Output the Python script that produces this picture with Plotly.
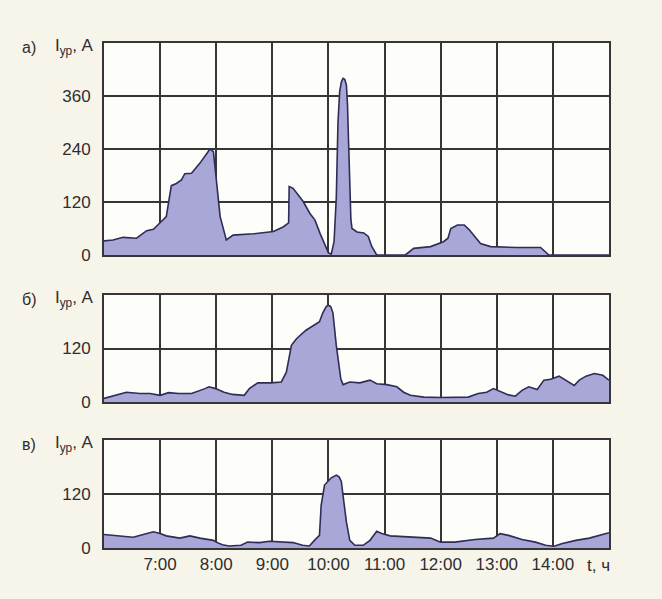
import plotly.graph_objects as go

# ---- data (time in decimal hours, current in A) ----
hours_a = [6.0, 6.16, 6.34, 6.58, 6.76, 6.88, 6.99, 7.11, 7.20, 7.29, 7.38, 7.44, 7.56, 7.71, 7.89, 7.95,
           8.07, 8.18, 8.30, 8.66, 9.02, 9.20, 9.29, 9.30, 9.37, 9.55, 9.67, 9.76, 9.85, 10.00,
           10.05, 10.10, 10.14, 10.17, 10.20, 10.23, 10.26, 10.29, 10.32, 10.34, 10.36, 10.38, 10.40,
           10.42, 10.51, 10.63, 10.71, 10.77, 10.86, 11.37, 11.52, 11.82, 12.05, 12.13, 12.18, 12.30,
           12.42, 12.51, 12.71, 12.89, 13.36, 13.78, 13.87, 13.93, 15.0]
current_a = [32, 34, 40, 38, 55, 58, 72, 87, 157, 162, 170, 184, 185, 208, 240, 234,
             87, 34, 45, 48, 53, 64, 73, 155, 151, 121, 94, 79, 49, 5,
             2, 30, 130, 300, 370, 392, 400, 398, 385, 340, 250, 150, 80,
             60, 52, 50, 42, 20, 0, 0, 15, 19, 30, 38, 60, 68,
             68, 57, 26, 19, 17, 17, 8, 0, 0]

hours_b = [6.0, 6.22, 6.40, 6.64, 6.82, 7.0, 7.15, 7.33, 7.56, 7.80, 7.87, 7.99, 8.14, 8.29, 8.50,
           8.59, 8.74, 8.98, 9.16, 9.25, 9.34, 9.43, 9.60, 9.84, 9.90, 9.96, 10.0, 10.04, 10.08, 10.14,
           10.22, 10.26, 10.38, 10.56, 10.74, 10.86, 11.04, 11.22, 11.34, 11.46, 11.70, 12.0, 12.49,
           12.67, 12.82, 12.94, 13.06, 13.21, 13.33, 13.45, 13.57, 13.72, 13.84, 13.96, 14.11,
           14.23, 14.38, 14.47, 14.59, 14.74, 14.89, 15.0]
current_b = [8, 15, 22, 19, 19, 15, 21, 19, 19, 30, 34, 30, 22, 17, 15,
             30, 43, 43, 45, 67, 127, 142, 161, 180, 200, 214, 217, 214, 200, 127,
             52, 39, 45, 43, 49, 41, 39, 34, 22, 15, 11, 10, 11,
             19, 22, 30, 24, 16, 13, 26, 34, 28, 49, 51, 58,
             49, 37, 49, 58, 64, 60, 49]

hours_c = [6.0, 6.22, 6.52, 6.70, 6.88, 7.0, 7.11, 7.35, 7.53, 7.71, 7.95, 8.0, 8.11, 8.23, 8.44,
           8.56, 8.77, 8.95, 9.13, 9.37, 9.54, 9.66, 9.75, 9.84, 9.87, 9.93, 10.05, 10.10, 10.14, 10.19,
           10.23, 10.26, 10.32, 10.38, 10.47, 10.62, 10.74, 10.86, 10.95, 11.10, 11.46, 11.82, 12.0,
           12.25, 12.61, 12.94, 13.06, 13.21, 13.45, 13.69, 13.87, 14.02, 14.17, 14.41, 14.65,
           14.89, 15.0]
current_c = [30, 28, 24, 30, 36, 32, 27, 22, 27, 22, 17, 13, 7, 4.5, 6,
             13, 12, 15, 13, 12, 6, 4.5, 17, 28, 95, 140, 156, 160, 162, 158,
             148, 117, 58, 17, 6, 6, 17, 37, 32, 27, 24, 22, 13,
             13, 19, 22, 32, 28, 19, 13, 6, 4, 10, 17, 22,
             30, 34]

x_ticks = [7, 8, 9, 10, 11, 12, 13, 14]
x_labels = ["7:00", "8:00", "9:00", "10:00", "11:00", "12:00", "13:00", "14:00"]
ticks_a = [0, 120, 240, 360]
ticks_bc = [0, 120]
panel_letters = ["а)", "б)", "в)"]

# ---- styling ----
BG = "#f7f4ea"
PLOT_BG = "#fdfdf9"
GRID = "#363636"
FILL = "#a9a6d8"
LINE = "#2f2c55"
FONT = "Liberation Sans, Arial, sans-serif"
TXT = "#2e2e2e"

fig = go.Figure()
series = [(hours_a, current_a), (hours_b, current_b), (hours_c, current_c)]
for i, (hx, cy) in enumerate(series):
    sfx = "" if i == 0 else str(i + 1)
    fig.add_trace(go.Scatter(x=hx, y=cy, mode="lines", fill="tozeroy",
                             fillcolor=FILL, line=dict(color=LINE, width=1.6),
                             xaxis="x" + sfx, yaxis="y" + sfx, showlegend=False,
                             hoverinfo="skip"))

W, H = 662, 599
ml, mr, mt, mb = 104, 53, 43, 51
ph = H - mt - mb
def py(y):
    return (H - mb - y) / ph

domains = [(py(255), 1.0), (py(402), py(295)), (0.0, py(440))]
ranges = [[0, 480], [0, 240], [0, 240]]
tickv = [ticks_a, ticks_bc, ticks_bc]

layout = dict(width=W, height=H, paper_bgcolor=BG, plot_bgcolor=PLOT_BG,
              margin=dict(l=ml, r=mr, t=mt, b=mb),
              font=dict(family=FONT, size=17, color=TXT))

for i in range(3):
    sfx = "" if i == 0 else str(i + 1)
    xa = dict(
        domain=[0, 1], range=[6, 15], anchor="y" + sfx,
        tickvals=x_ticks, showticklabels=(i == 2), ticks="",
        showgrid=True, gridcolor=GRID, gridwidth=1.8,
        showline=True, mirror=True, linecolor=GRID, linewidth=2,
        zeroline=False, fixedrange=True,
        tickfont=dict(family=FONT, size=17, color=TXT))
    if i == 2:
        xa["ticktext"] = x_labels
    layout["xaxis" + sfx] = xa
    layout["yaxis" + sfx] = dict(
        domain=list(domains[i]), range=ranges[i], anchor="x" + sfx,
        tickvals=tickv[i], ticks="", ticklabelstandoff=8,
        showgrid=True, gridcolor=GRID, gridwidth=1.8,
        showline=True, mirror=True, linecolor=GRID, linewidth=2,
        zeroline=False, fixedrange=True,
        tickfont=dict(family=FONT, size=17, color=TXT))

fig.update_layout(**layout)

pw = W - ml - mr
def px(x):
    return (x - ml) / pw

label_tops = [py(43), py(295), py(440)]
for i in range(3):
    fig.add_annotation(xref="paper", yref="paper", x=px(96), y=label_tops[i],
                       xanchor="right", yanchor="middle", yshift=-4, showarrow=False,
                       text="I<sub>ур</sub>, А", font=dict(family=FONT, size=17, color=TXT))
    fig.add_annotation(xref="paper", yref="paper", x=px(20), y=label_tops[i],
                       xanchor="left", yanchor="middle", yshift=-4, showarrow=False,
                       text=panel_letters[i], font=dict(family=FONT, size=16, color=TXT))

fig.add_annotation(xref="paper", yref="paper", x=px(598), y=py(565),
                   xanchor="center", yanchor="middle", showarrow=False,
                   text="t, ч", font=dict(family=FONT, size=17, color=TXT))

fig.write_html("out.html")
